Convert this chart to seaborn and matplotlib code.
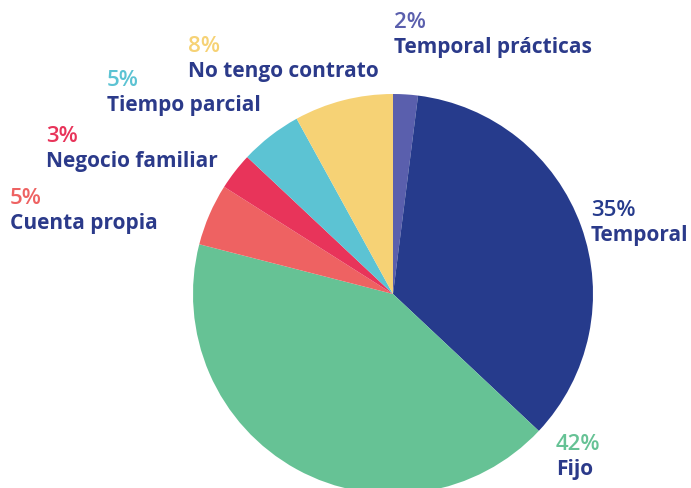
import matplotlib
matplotlib.use("Agg")
import matplotlib.pyplot as plt
import seaborn as sns

categories = ["Temporal prácticas", "Temporal", "Fijo", "Cuenta propia",
              "Negocio familiar", "Tiempo parcial", "No tengo contrato"]
values = [2, 35, 42, 5, 3, 5, 8]
pct_labels = ["2%", "35%", "42%", "5%", "3%", "5%", "8%"]
colors = ["#5a5fad", "#263b8c", "#66c295", "#ee6262", "#e8345a", "#5cc3d3", "#f6d275"]
label_pos = [(394, 22), (591, 210), (556, 445), (10, 198), (46, 137), (107, 81), (188, 46)]

sns.set_theme(style="white")
plt.rcParams['font.family'] = ['Open Sans', 'DejaVu Sans']

W, H = 691, 488
fig = plt.figure(figsize=(W / 100, H / 100), dpi=100)
ax = fig.add_axes([0, 0, 1, 1])
ax.pie(values, colors=colors, startangle=90, counterclock=False,
       center=(393, H - 294), radius=200,
       wedgeprops=dict(linewidth=0))
ax.set_xlim(0, W)
ax.set_ylim(0, H)
ax.set_aspect('equal')
ax.axis('off')

navy = "#2b3a8a"
for cat, pct, col, (x, y) in zip(categories, pct_labels, colors, label_pos):
    ax.text(x, H - y, pct, color=col, fontsize=16, fontweight='semibold',
            ha='left', va='center')
    ax.text(x, H - y - 25, cat, color=navy, fontsize=15, fontweight='bold',
            ha='left', va='center')

fig.savefig("out.png", dpi=100)
